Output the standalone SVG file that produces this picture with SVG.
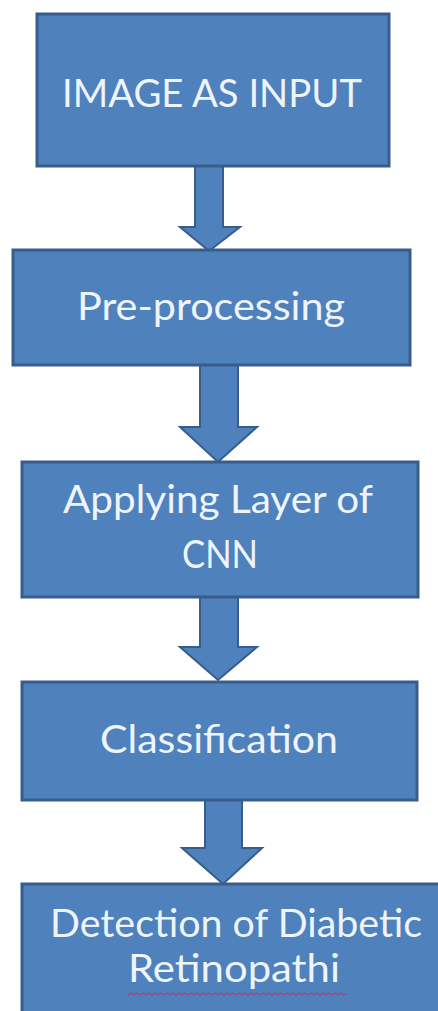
<svg xmlns="http://www.w3.org/2000/svg" width="438" height="1011" viewBox="0 0 438 1011">
<style>
.box{fill:#4F81BD;stroke:#385D8A;stroke-width:3}
.arr{fill:#4F81BD;stroke:#385D8A;stroke-width:2;stroke-linejoin:miter}
.lbl{font-family:Lato,"Open Sans","Liberation Sans",sans-serif;font-size:39px;fill:#EEF4FC;text-anchor:middle}
</style>
<rect width="438" height="1011" fill="#FFFFFF"/>
<g id="connectors">
<path class="arr" d="M195,166 L223,166 L223,227 L240,227 L209,251 L180,227 L195,227 Z"/>
<path class="arr" d="M200,365 L238,365 L238,427 L257,427 L218,462 L180,427 L200,427 Z"/>
<path class="arr" d="M200,597 L238,597 L238,647 L257,647 L218,680 L180,647 L200,647 Z"/>
<path class="arr" d="M205,800 L242,800 L242,848 L262,848 L223,884 L182,848 L205,848 Z"/>
</g>
<g id="node1">
<rect class="box" x="37" y="14" width="352" height="152"/>
<text class="lbl" x="212" y="107" textLength="300" lengthAdjust="spacingAndGlyphs">IMAGE AS INPUT</text>
</g>
<g id="node2">
<rect class="box" x="13" y="250" width="397" height="115"/>
<text class="lbl" x="211" y="320" textLength="268" lengthAdjust="spacingAndGlyphs">Pre-processing</text>
</g>
<g id="node3">
<rect class="box" x="22" y="462" width="396" height="135"/>
<text class="lbl" x="218" y="513" textLength="310" lengthAdjust="spacingAndGlyphs">Applying Layer of</text>
<text class="lbl" x="220" y="568" textLength="76" lengthAdjust="spacingAndGlyphs">CNN</text>
</g>
<g id="node4">
<rect class="box" x="22" y="682" width="395" height="118"/>
<text class="lbl" x="219" y="753" textLength="238" lengthAdjust="spacingAndGlyphs">Classification</text>
</g>
<g id="node5">
<rect class="box" x="22" y="884" width="430" height="150"/>
<text class="lbl" x="236" y="937" textLength="372" lengthAdjust="spacingAndGlyphs">Detection of Diabetic</text>
<text class="lbl" x="234" y="982" textLength="212" lengthAdjust="spacingAndGlyphs">Retinopathi</text>
<path d="M128,995 l3,-2 l3,2 l3,-2 l3,2 l3,-2 l3,2 l3,-2 l3,2 l3,-2 l3,2 l3,-2 l3,2 l3,-2 l3,2 l3,-2 l3,2 l3,-2 l3,2 l3,-2 l3,2 l3,-2 l3,2 l3,-2 l3,2 l3,-2 l3,2 l3,-2 l3,2 l3,-2 l3,2 l3,-2 l3,2 l3,-2 l3,2 l3,-2 l3,2 l3,-2 l3,2 l3,-2 l3,2 l3,-2 l3,2 l3,-2 l3,2 l3,-2 l3,2 l3,-2 l3,2 l3,-2 l3,2 l3,-2 l3,2 l3,-2 l3,2 l3,-2 l3,2 l3,-2 l3,2 l3,-2 l3,2 l3,-2 l3,2 l3,-2 l3,2 l3,-2 l3,2 l3,-2 l3,2 l3,-2 l3,2 l3,-2 l3,2 l3,-2" fill="none" stroke="#C0306A" stroke-width="1"/>
</g>
</svg>
